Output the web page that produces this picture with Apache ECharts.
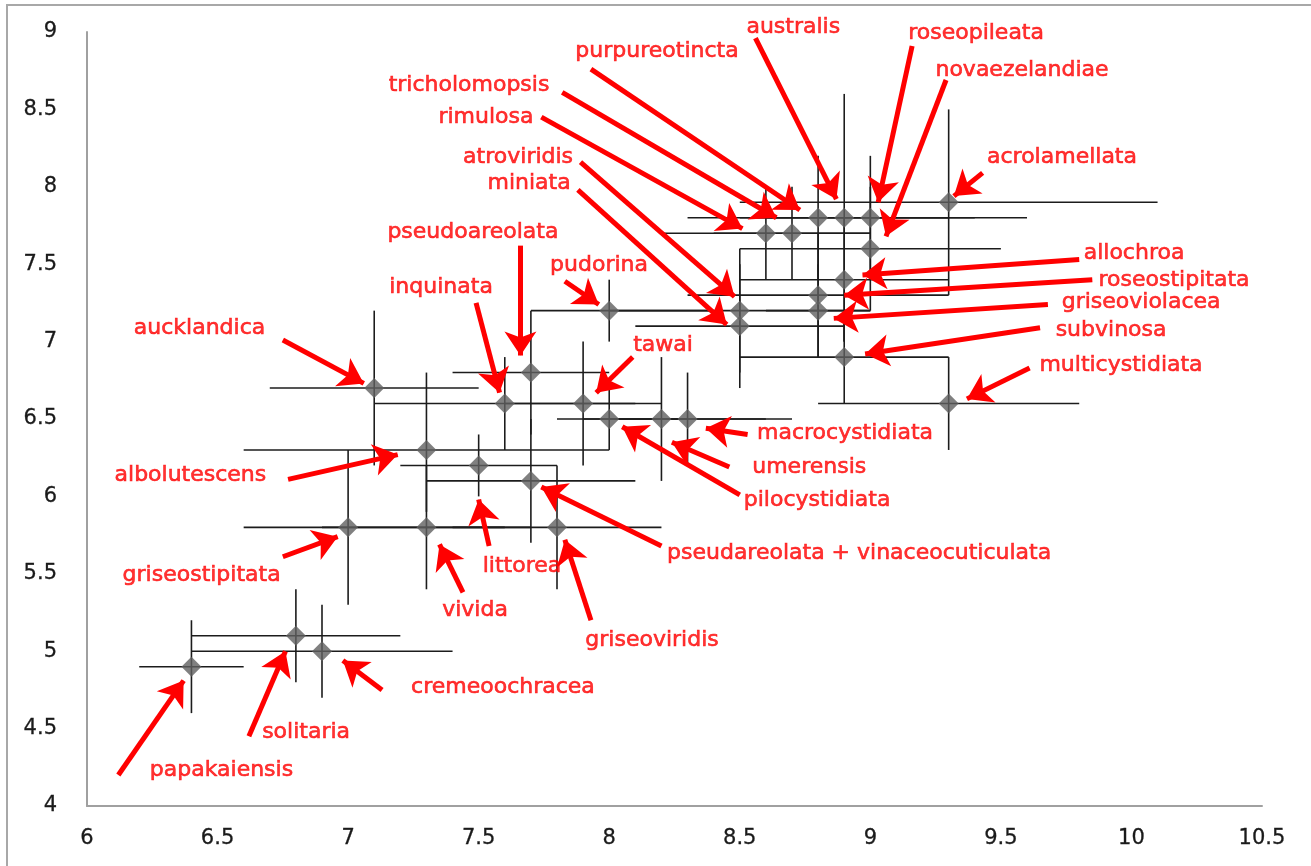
<!DOCTYPE html>
<html>
<head>
<meta charset="utf-8">
<script src="https://cdn.jsdelivr.net/npm/echarts@6/dist/echarts.min.js"></script>
<style>
  html, body { margin: 0; padding: 0; background: #fff; }
  #chart { width: 1311px; height: 866px; }
</style>
</head>
<body>
<div id="chart"></div>
<script>
// species, means and ranges (x, y)
const names = ['papakaiensis', 'solitaria', 'cremeoochracea', 'griseostipitata', 'vivida', 'littorea',
  'griseoviridis', 'pseudareolata + vinaceocuticulata', 'albolutescens', 'aucklandica', 'inquinata',
  'pseudoareolata', 'pudorina', 'tawai', 'pilocystidiata', 'umerensis', 'macrocystidiata',
  'griseoviolacea', 'roseostipitata', 'allochroa', 'subvinosa', 'multicystidiata', 'acrolamellata',
  'novaezelandiae', 'roseopileata', 'australis', 'purpureotincta', 'tricholomopsis', 'rimulosa',
  'atroviridis', 'miniata'];
const xMean = [6.4, 6.8, 6.9, 7.0, 7.3, 7.5, 7.8, 7.7, 7.3, 7.1, 7.6, 7.7, 8.0, 7.9, 8.0, 8.2, 8.3,
  8.8, 8.8, 8.9, 8.9, 9.3, 9.3, 9.0, 9.0, 8.9, 8.8, 8.7, 8.6, 8.5, 8.5];
const yMean = [4.9, 5.1, 5.0, 5.8, 5.8, 6.2, 5.8, 6.1, 6.3, 6.7, 6.6, 6.8, 7.2, 6.6, 6.5, 6.5, 6.5,
  7.2, 7.3, 7.4, 6.9, 6.6, 7.9, 7.6, 7.8, 7.8, 7.8, 7.7, 7.7, 7.2, 7.1];
const xMin = [6.2, 6.4, 6.4, 6.6, 6.9, 7.2, 7.4, 7.3, 6.6, 6.7, 7.1, 7.4, 7.7, 7.6, 7.8, 7.9, 8.0,
  8.6, 8.3, 8.5, 8.5, 8.8, 8.5, 8.5, 8.6, 8.5, 8.3, 8.4, 8.2, 8.0, 8.1];
const xMax = [6.6, 7.2, 7.4, 7.6, 7.7, 7.8, 8.2, 8.1, 8.0, 7.5, 8.1, 8.0, 8.4, 8.2, 8.3, 8.6, 8.7,
  9.0, 9.3, 9.3, 9.3, 9.8, 10.1, 9.5, 9.4, 9.6, 9.3, 9.0, 9.0, 9.0, 8.9];
const yMin = [4.6, 4.8, 4.7, 5.3, 5.4, 6.0, 5.4, 5.7, 5.9, 6.2, 6.3, 6.4, 7.0, 6.2, 6.3, 6.1, 6.2,
  6.9, 6.9, 7.0, 6.6, 6.3, 7.3, 7.2, 7.4, 7.0, 7.4, 7.4, 7.4, 6.8, 6.7];
const yMax = [5.2, 5.4, 5.3, 6.3, 6.2, 6.4, 6.2, 6.5, 6.8, 7.2, 6.9, 7.2, 7.4, 7.0, 6.7, 6.9, 6.8,
  7.5, 7.7, 7.8, 7.2, 6.9, 8.5, 8.0, 8.2, 8.6, 8.2, 8.0, 8.0, 7.6, 7.5];

// annotation anchors (data units): label centre, arrow tail, arrow tip
const labelX = [6.515, 6.839, 7.593, 6.439, 7.486, 7.666, 8.164, 8.957, 6.396, 6.431, 7.356, 7.478,
  7.961, 8.206, 8.796, 8.766, 8.903, 10.037, 10.163, 10.010, 9.922, 9.960, 9.734, 9.581, 9.405,
  8.705, 8.183, 7.463, 7.528, 7.651, 7.693];
const labelY = [4.233, 4.478, 4.769, 5.492, 5.266, 5.550, 5.072, 5.634, 6.138, 7.088, 7.353, 7.708,
  7.495, 6.978, 5.977, 6.190, 6.410, 7.256, 7.398, 7.572, 7.075, 6.849, 8.193, 8.755, 8.990,
  9.030, 8.873, 8.658, 8.451, 8.193, 8.025];
const tailX = [6.12, 6.62, 7.13, 6.75, 7.44, 7.54, 7.93, 8.20, 6.77, 6.75, 7.49, 7.66, 7.83, 8.09,
  8.50, 8.46, 8.53, 9.68, 9.85, 9.80, 9.65, 9.61, 9.43, 9.29, 9.16, 8.56, 7.93, 7.82, 7.74, 7.89, 7.88];
const tailY = [4.20, 4.45, 4.75, 5.61, 5.38, 5.68, 5.20, 5.68, 6.11, 7.01, 7.25, 7.62, 7.39, 6.90,
  6.01, 6.19, 6.40, 7.24, 7.40, 7.53, 7.09, 6.83, 8.09, 8.69, 8.91, 8.96, 8.76, 8.61, 8.45, 8.16, 7.98];
const tipX = [6.37, 6.76, 6.98, 6.96, 7.35, 7.50, 7.83, 7.74, 7.19, 7.06, 7.58, 7.66, 7.96, 7.95,
  8.05, 8.24, 8.37, 8.86, 8.90, 8.97, 8.98, 9.37, 9.32, 9.06, 9.03, 8.87, 8.73, 8.64, 8.51, 8.48, 8.45];
const tipY = [4.81, 5.00, 4.94, 5.74, 5.69, 5.98, 5.72, 6.06, 6.27, 6.73, 6.67, 6.91, 7.24, 6.67,
  6.45, 6.35, 6.44, 7.15, 7.30, 7.43, 6.92, 6.63, 7.94, 7.68, 7.90, 7.92, 7.85, 7.80, 7.73, 7.29, 7.11];

const xTicks = { min: 6, max: 10.5, interval: 0.5 };
const yTicks = { min: 4, max: 9, interval: 0.5 };

const barData = names.map((n, i) => [xMean[i], yMean[i], xMin[i], xMax[i], yMin[i], yMax[i]]);
const pointData = names.map((n, i) => ({ name: n, value: [xMean[i], yMean[i]] }));
const labelData = names.map((n, i) => ({ name: n, value: [labelX[i], labelY[i]] }));
const arrowData = names.map((n, i) => [
  { coord: [tailX[i], tailY[i]] },
  { coord: [tipX[i], tipY[i]] }
]);

const axisText = {
  color: '#1a1a1a', fontFamily: 'DejaVu Sans', fontSize: 21,
  textBorderColor: '#1a1a1a', textBorderWidth: 0.3
};

const chart = echarts.init(document.getElementById('chart'));
chart.setOption({
  animation: false,
  backgroundColor: '#fff',
  graphic: [{
    type: 'rect',
    shape: { x: 7, y: 5, width: 1400, height: 1000 },
    style: { fill: 'none', stroke: '#a8a8a8', lineWidth: 2 },
    silent: true
  }],
  grid: { left: 87, right: 49, top: 32, bottom: 60 },
  xAxis: {
    type: 'value',
    min: xTicks.min, max: xTicks.max, interval: xTicks.interval,
    axisLine: { show: true, lineStyle: { color: '#a0a0a0', width: 2 } },
    axisTick: { show: false },
    splitLine: { show: false },
    axisLabel: Object.assign({ margin: 22 }, axisText)
  },
  yAxis: {
    type: 'value',
    min: yTicks.min, max: yTicks.max, interval: yTicks.interval,
    axisLine: { show: true, lineStyle: { color: '#a0a0a0', width: 2 } },
    axisTick: { show: false },
    splitLine: { show: false },
    axisLabel: Object.assign({ margin: 30 }, axisText)
  },
  series: [
    {
      // error bars
      type: 'custom',
      data: barData,
      encode: { x: [0, 2, 3], y: [1, 4, 5] },
      silent: true,
      z: 2,
      renderItem: function (params, api) {
        const l = api.coord([api.value(2), api.value(1)]);
        const r = api.coord([api.value(3), api.value(1)]);
        const lo = api.coord([api.value(0), api.value(4)]);
        const hi = api.coord([api.value(0), api.value(5)]);
        const st = { stroke: '#1c1c1c', lineWidth: 1.6 };
        return {
          type: 'group',
          children: [
            { type: 'line', shape: { x1: l[0], y1: l[1], x2: r[0], y2: r[1] }, style: st },
            { type: 'line', shape: { x1: lo[0], y1: lo[1], x2: hi[0], y2: hi[1] }, style: st }
          ]
        };
      }
    },
    {
      // means
      type: 'scatter',
      data: pointData,
      symbol: 'diamond',
      symbolSize: 20,
      itemStyle: { color: '#606060' },
      silent: true,
      z: 3
    },
    {
      // species labels and arrows
      type: 'scatter',
      data: labelData,
      symbolSize: 0,
      clip: false,
      silent: true,
      z: 4,
      label: {
        show: true,
        position: 'inside',
        formatter: p => p.name,
        color: '#ff0000',
        fontFamily: 'DejaVu Sans',
        fontSize: 22,
        textBorderColor: '#ff0000',
        textBorderWidth: 0.6
      },
      markLine: {
        silent: true,
        symbol: ['none', 'arrow'],
        symbolSize: 24,
        label: { show: false },
        lineStyle: { color: '#ff0000', width: 5, type: 'solid', opacity: 1 },
        emphasis: { disabled: true },
        data: arrowData
      }
    }
  ]
});
</script>
</body>
</html>
